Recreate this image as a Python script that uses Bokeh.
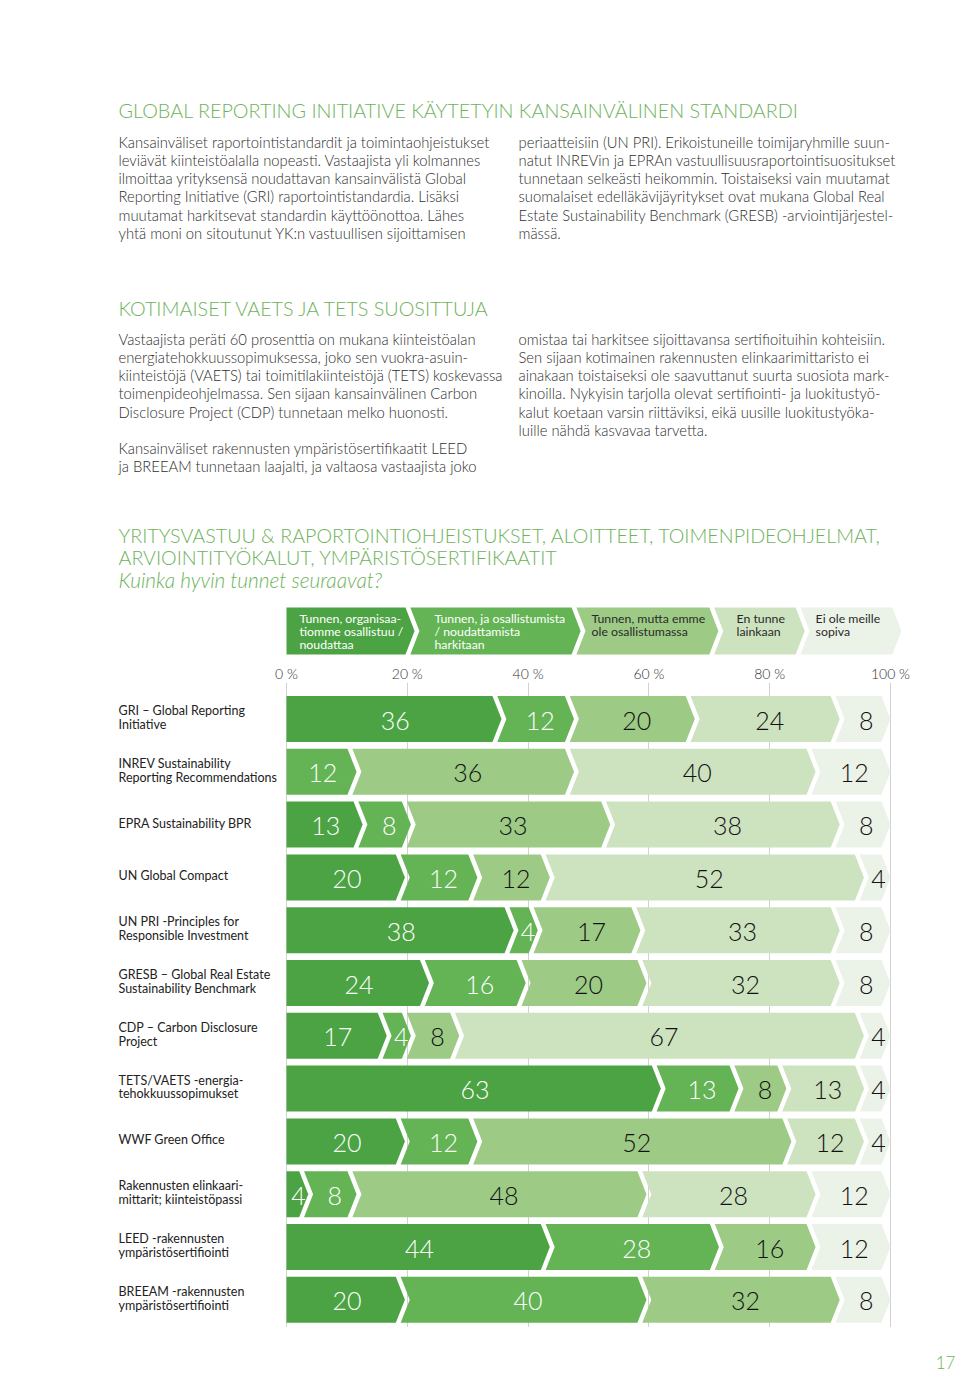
from bokeh.plotting import figure
from bokeh.models import Range1d, LinearAxis, FixedTicker
from bokeh.layouts import column
from bokeh.core.properties import value
from bokeh.embed import file_html
from bokeh.resources import INLINE

# ---------------- data ----------------
categories = [
    "GRI – Global Reporting\nInitiative",
    "INREV Sustainability\nReporting Recommendations",
    "EPRA Sustainability BPR",
    "UN Global Compact",
    "UN PRI -Principles for\nResponsible Investment",
    "GRESB – Global Real Estate\nSustainability Benchmark",
    "CDP – Carbon Disclosure\nProject",
    "TETS/VAETS -energia-\ntehokkuussopimukset",
    "WWF Green Office",
    "Rakennusten elinkaari-\nmittarit; kiinteistöpassi",
    "LEED -rakennusten\nympäristösertifiointi",
    "BREEAM -rakennusten\nympäristösertifiointi",
]
series_names = [
    "Tunnen, organisaa-\ntiomme osallistuu /\nnoudattaa",
    "Tunnen, ja osallistumista\n/ noudattamista\nharkitaan",
    "Tunnen, mutta emme\nole osallistumassa",
    "En tunne\nlainkaan",
    "Ei ole meille\nsopiva",
]
s_participates = [36, 0, 13, 20, 38, 24, 17, 63, 20, 4, 44, 20]
s_considering  = [12, 12, 8, 12, 4, 16, 4, 13, 12, 8, 28, 40]
s_not_joining  = [20, 36, 33, 12, 17, 20, 8, 8, 52, 48, 16, 32]
s_unknown      = [24, 40, 38, 52, 33, 32, 67, 13, 12, 28, 0, 0]
s_unsuitable   = [8, 12, 8, 4, 8, 8, 4, 4, 4, 12, 12, 8]
tick_values = [0, 20, 40, 60, 80, 100]
tick_labels = ["0 %", "20 %", "40 %", "60 %", "80 %", "100 %"]
page_number = "17"

series = [s_participates, s_considering, s_not_joining, s_unknown, s_unsuitable]

# ---------------- styles ----------------
colors = ["#4ca344", "#64b455", "#9dcb86", "#cde3c0", "#ebf2e7"]
label_colors = ["#ffffff", "#ffffff", "#111111", "#111111", "#111111"]
green = "#6db35b"
body_color = "#2e2e2e"
LIGHT_NAME = "'Lato Light', Lato"
LIGHT = value(LIGHT_NAME)
REGULAR = value("Lato")

PX_PER_UNIT = 6.04
ZERO_PAGE_X = 286


def v(page_x):
    return (page_x - ZERO_PAGE_X) / PX_PER_UNIT


W = 960
H1 = 658
FRAME_TOP = 682
FRAME_BOT = 1327
H2 = FRAME_BOT - H1
H3 = 1394 - FRAME_BOT
XR = (v(0), v(W))

ARROW = 1.5   # chevron depth in % units
GAP = 0.8     # white gap in % units


def chevron(b0, b1, yc, hh, first, last):
    top, bot = yc - hh, yc + hh
    if last:
        tip, sh = b1, b1 - ARROW
    else:
        tip, sh = b1 - GAP / 2, b1 - ARROW - GAP / 2
    if first:
        xs = [b0, sh, tip, sh, b0]
        ys = [top, top, yc, bot, bot]
    else:
        l = b0 - ARROW + GAP / 2
        xs = [l, sh, tip, sh, l, b0 + GAP / 2]
        ys = [top, top, yc, bot, bot, yc]
    return xs, ys


def blank_fig(height, y_range, **kw):
    p = figure(width=W, height=height, x_range=Range1d(*XR), y_range=y_range,
               output_backend="svg", toolbar_location=None,
               x_axis_location=None, y_axis_location=None,
               outline_line_color=None, **kw)
    p.xgrid.visible = False
    p.ygrid.visible = False
    return p


def put_text(p, xs, ys, texts, size, color, style="normal", align="left", font=LIGHT):
    p.text(x=xs, y=ys, text=texts, text_font=font, text_font_size=size,
           text_color=color, text_baseline="middle", text_align=align,
           text_font_style=style)


# ================= figure 1 : texts + legend =================
p1 = blank_fig(H1, Range1d(H1, 0), min_border=0)

col1 = v(118)
col2 = v(518)
BODY = "14.8px"
LH = 18.3

put_text(p1, [col1], [109], ["GLOBAL REPORTING INITIATIVE KÄYTETYIN KANSAINVÄLINEN STANDARDI"],
         "19.8px", green)

b1_left = [
    "Kansainväliset raportointistandardit ja toimintaohjeistukset",
    "leviävät kiinteistöalalla nopeasti. Vastaajista yli kolmannes",
    "ilmoittaa yrityksensä noudattavan kansainvälistä Global",
    "Reporting Initiative (GRI) raportointistandardia. Lisäksi",
    "muutamat harkitsevat standardin käyttöönottoa. Lähes",
    "yhtä moni on sitoutunut YK:n vastuullisen sijoittamisen",
]
b1_right = [
    "periaatteisiin (UN PRI). Erikoistuneille toimijaryhmille suun-",
    "natut INREVin ja EPRAn vastuullisuusraportointisuositukset",
    "tunnetaan selkeästi heikommin. Toistaiseksi vain muutamat",
    "suomalaiset edelläkävijäyritykset ovat mukana Global Real",
    "Estate Sustainability Benchmark (GRESB) -arviointijärjestel-",
    "mässä.",
]
put_text(p1, [col1] * 6, [141 + LH * i for i in range(6)], b1_left, BODY, body_color)
put_text(p1, [col2] * 6, [141 + LH * i for i in range(6)], b1_right, BODY, body_color)

put_text(p1, [col1], [307], ["KOTIMAISET VAETS JA TETS SUOSITTUJA"], "19.8px", green)

b2_left = [
    "Vastaajista peräti 60 prosenttia on mukana kiinteistöalan",
    "energiatehokkuussopimuksessa, joko sen vuokra-asuin-",
    "kiinteistöjä (VAETS) tai toimitilakiinteistöjä (TETS) koskevassa",
    "toimenpideohjelmassa. Sen sijaan kansainvälinen Carbon",
    "Disclosure Project (CDP) tunnetaan melko huonosti.",
    "Kansainväliset rakennusten ympäristösertifikaatit LEED",
    "ja BREEAM tunnetaan laajalti, ja valtaosa vastaajista joko",
]
b2_left_y = [338 + LH * i for i in range(5)] + [447, 465]
b2_right = [
    "omistaa tai harkitsee sijoittavansa sertifioituihin kohteisiin.",
    "Sen sijaan kotimainen rakennusten elinkaarimittaristo ei",
    "ainakaan toistaiseksi ole saavuttanut suurta suosiota mark-",
    "kinoilla. Nykyisin tarjolla olevat sertifiointi- ja luokitustyö-",
    "kalut koetaan varsin riittäviksi, eikä uusille luokitustyöka-",
    "luille nähdä kasvavaa tarvetta.",
]
put_text(p1, [col1] * 7, b2_left_y, b2_left, BODY, body_color)
put_text(p1, [col2] * 6, [338 + LH * i for i in range(6)], b2_right, BODY, body_color)

put_text(p1, [col1, col1], [535, 557],
         ["YRITYSVASTUU & RAPORTOINTIOHJEISTUKSET, ALOITTEET, TOIMENPIDEOHJELMAT,",
          "ARVIOINTITYÖKALUT, YMPÄRISTÖSERTIFIKAATIT"], "19.7px", green)
put_text(p1, [col1], [579], ["Kuinka hyvin tunnet seuraavat?"], "20.8px", green, style="italic")

# legend chevrons
legend_bounds = [0, 21.6, 49.1, 71.9, 86.2, 101.8]
legend_text_x = [2.15, 24.5, 50.5, 74.5, 87.6]
leg_top, leg_bot = 607, 654
leg_c, leg_hh = (leg_top + leg_bot) / 2, (leg_bot - leg_top) / 2
lxs, lys = [], []
for k in range(5):
    xs, ys = chevron(legend_bounds[k], legend_bounds[k + 1], leg_c, leg_hh, k == 0, k == 4)
    lxs.append(xs)
    lys.append(ys)
p1.patches(xs=lxs, ys=lys, fill_color=colors, line_color=None)
tx, ty, tt, tc = [], [], [], []
for k, name in enumerate(series_names):
    for j, line in enumerate(name.split("\n")):
        tx.append(legend_text_x[k])
        ty.append(618 + 13 * j)
        tt.append(line)
        tc.append(label_colors[k] if k < 2 else "#2a2a2a")
p1.text(x=tx, y=ty, text=tt, text_color=tc, text_font=REGULAR, text_font_size="12.3px",
        text_baseline="middle", text_align="left")

# ================= figure 2 : chart =================
ROW0 = 718.5
ROWSTEP = 52.8


def rows(page_y):
    return (page_y - ROW0) / ROWSTEP


p2 = figure(width=W, height=H2, x_range=Range1d(*XR),
            y_range=Range1d(rows(FRAME_BOT), rows(FRAME_TOP)),
            output_backend="svg", toolbar_location=None,
            x_axis_location=None, y_axis_location=None,
            min_border_left=0, min_border_right=0,
            min_border_top=FRAME_TOP - H1, min_border_bottom=0,
            outline_line_color=None)

ax = LinearAxis(ticker=FixedTicker(ticks=tick_values),
                major_label_overrides={t: l for t, l in zip(tick_values, tick_labels)})
ax.axis_line_color = None
ax.major_tick_line_color = None
ax.minor_tick_line_color = None
ax.major_tick_out = 0
ax.major_tick_in = 0
ax.major_label_standoff = 1
ax.major_label_text_font = LIGHT_NAME
ax.major_label_text_font_size = "14px"
ax.major_label_text_color = "#333333"
p2.add_layout(ax, "above")

p2.ygrid.visible = False
p2.xgrid.ticker = FixedTicker(ticks=tick_values)
p2.xgrid.grid_line_color = "#d2d2d2"
p2.xgrid.grid_line_width = 1

HH = 23 / ROWSTEP
pxs, pys, pcol = [], [], []
lx, ly, lt, lc = [], [], [], []
for i in range(len(categories)):
    vals = [s[i] for s in series]
    total = float(sum(vals))
    nz = [k for k in range(5) if vals[k] > 0]
    cum = 0.0
    for k in range(5):
        if vals[k] == 0:
            continue
        b0 = cum / total * 100
        cum += vals[k]
        b1 = cum / total * 100
        xs, ys = chevron(b0, b1, i, HH, k == nz[0], k == nz[-1])
        pxs.append(xs)
        pys.append(ys)
        pcol.append(colors[k])
        lx.append((b0 + b1) / 2)
        ly.append(i + 1.5 / ROWSTEP)
        lt.append(str(vals[k]))
        lc.append(label_colors[k])
p2.patches(xs=pxs, ys=pys, fill_color=pcol, line_color=None)
p2.text(x=lx, y=ly, text=lt, text_color=lc, text_font=LIGHT, text_font_size="25px",
        text_baseline="middle", text_align="center")

cx, cy, ct = [], [], []
for i, name in enumerate(categories):
    parts = name.split("\n")
    n = len(parts)
    for j, line in enumerate(parts):
        off = (j - (n - 1) / 2) * 13.5 - 1.5
        cx.append(v(118))
        cy.append(i + off / ROWSTEP)
        ct.append(line)
p2.text(x=cx, y=cy, text=ct, text_color="#222222", text_font=REGULAR, text_font_size="12.5px",
        text_baseline="middle", text_align="left")

# ================= figure 3 : page number =================
p3 = blank_fig(H3, Range1d(1394, FRAME_BOT), min_border=0)
put_text(p3, [v(945)], [1362], [page_number], "17px", green, align="center")

layout = column(p1, p2, p3, spacing=0)
open("out.html", "w").write(file_html(layout, INLINE))
